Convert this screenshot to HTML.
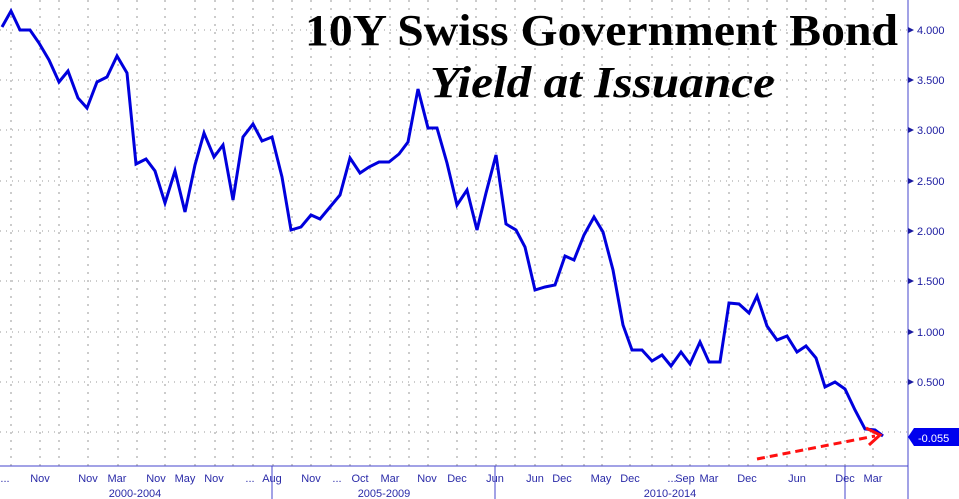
<!DOCTYPE html><html><head><style>body{margin:0;background:#fff}svg{display:block}</style></head><body>
<svg width="959" height="499" xmlns="http://www.w3.org/2000/svg" font-family="Liberation Sans, sans-serif">
<rect width="959" height="499" fill="#fff"/>
<g stroke="#999" stroke-width="1" stroke-dasharray="1,5">
<line x1="0" x2="908" y1="30" y2="30"/><line x1="0" x2="908" y1="80" y2="80"/><line x1="0" x2="908" y1="130" y2="130"/><line x1="0" x2="908" y1="181" y2="181"/><line x1="0" x2="908" y1="231" y2="231"/><line x1="0" x2="908" y1="281" y2="281"/><line x1="0" x2="908" y1="332" y2="332"/><line x1="0" x2="908" y1="382" y2="382"/><line x1="0" x2="908" y1="432" y2="432"/>
</g>
<g stroke="#999" stroke-width="1" stroke-dasharray="2,6" id="vg">
<path d="M11 0V466M40 0V466M59 0V466M88 0V466M118 0V466M137 0V466M165 0V466M195 0V466M215 0V466M233 0V466M253 0V466M273 0V466M292 0V466M311 0V466M331 0V466M350 0V466M370 0V466M390 0V466M409 0V466M428 0V466M457 0V466M476 0V466M496 0V466M515 0V466M535 0V466M562 0V466M584 0V466M602 0V466M630 0V466M652 0V466M672 0V466M690 0V466M709 0V466M729 0V466M748 0V466M767 0V466M787 0V466M806 0V466M826 0V466M845 0V466M873 0V466"/>
</g>
<line x1="908" y1="0" x2="908" y2="499" stroke="#4444cc" stroke-width="1"/>
<line x1="0" y1="466" x2="908" y2="466" stroke="#4444cc" stroke-width="1"/>
<g stroke="#4444cc"><line x1="272" y1="466" x2="272" y2="499"/><line x1="495" y1="466" x2="495" y2="499"/><line x1="845" y1="466" x2="845" y2="499"/></g>
<g fill="#1a1aa0" font-size="11">
<path d="M908 27l6 3-6 3zM908 77l6 3-6 3zM908 127l6 3-6 3zM908 178l6 3-6 3zM908 228l6 3-6 3zM908 278l6 3-6 3zM908 329l6 3-6 3zM908 379l6 3-6 3z"/>
<text x="917" y="34">4.000</text><text x="917" y="84">3.500</text><text x="917" y="134">3.000</text><text x="917" y="185">2.500</text><text x="917" y="235">2.000</text><text x="917" y="285">1.500</text><text x="917" y="336">1.000</text><text x="917" y="386">0.500</text>
</g>
<path d="M908 437l6-9h45v18h-45z" fill="#0000ee"/>
<text x="918" y="442" fill="#fff" font-size="11">-0.055</text>
<g fill="#2a2aa8" font-size="11" text-anchor="middle">
<text x="5" y="482">...</text><text x="40" y="482">Nov</text><text x="88" y="482">Nov</text><text x="117" y="482">Mar</text><text x="156" y="482">Nov</text><text x="185" y="482">May</text><text x="214" y="482">Nov</text><text x="250" y="482">...</text><text x="272" y="482">Aug</text><text x="311" y="482">Nov</text><text x="337" y="482">...</text><text x="360" y="482">Oct</text><text x="390" y="482">Mar</text><text x="427" y="482">Nov</text><text x="457" y="482">Dec</text><text x="495" y="482">Jun</text><text x="535" y="482">Jun</text><text x="562" y="482">Dec</text><text x="601" y="482">May</text><text x="630" y="482">Dec</text><text x="672" y="482">...</text><text x="685" y="482">Sep</text><text x="709" y="482">Mar</text><text x="747" y="482">Dec</text><text x="797" y="482">Jun</text><text x="845" y="482">Dec</text><text x="873" y="482">Mar</text>
<text x="135" y="497">2000-2004</text><text x="384" y="497">2005-2009</text><text x="670" y="497">2010-2014</text>
</g>
<polyline fill="none" stroke="#0000dd" stroke-width="3" stroke-linejoin="miter" points="2,27 11,11 20,30 30,30 39,43 49,60 59,82 68,71 78,98 87,108 97,82 107,77 117,56 127,73 136,164 146,159 155,171 165,203 175,171 185,212 195,165 204,133 214,157 223,145 233,200 243,137 253,124 262,141 272,137 282,177 291,230 301,227 311,215 320,219 330,207 340,195 350,158 360,173 369,167 379,162 389,162 399,154 408,142 418,89 428,128 437,128 447,163 457,205 467,190 477,230 486,193 496,155 506,224 516,230 525,247 535,290 545,287 555,285 565,256 574,260 584,235 594,217 603,232 613,270 623,325 632,350 642,350 652,361 662,355 671,366 681,352 690,364 700,342 709,362 720,362 729,303 739,304 749,313 757,296 767,326 777,340 787,336 797,352 806,346 816,358 825,387 835,382 845,389 855,410 865,429 875,430 883,436"/>
<line x1="757" y1="459" x2="875" y2="436" stroke="#ff1010" stroke-width="3" stroke-dasharray="8,5"/>
<path d="M866 428l14 7-11 10" fill="none" stroke="#ff1010" stroke-width="3"/>
<g font-family="Liberation Serif, serif" font-weight="bold" fill="#000">
<text x="305" y="45" font-size="44" textLength="593" lengthAdjust="spacingAndGlyphs">10Y Swiss Government Bond</text>
<text x="430" y="97" font-size="44" font-style="italic" textLength="345" lengthAdjust="spacingAndGlyphs">Yield at Issuance</text>
</g>
</svg>
</body></html>
